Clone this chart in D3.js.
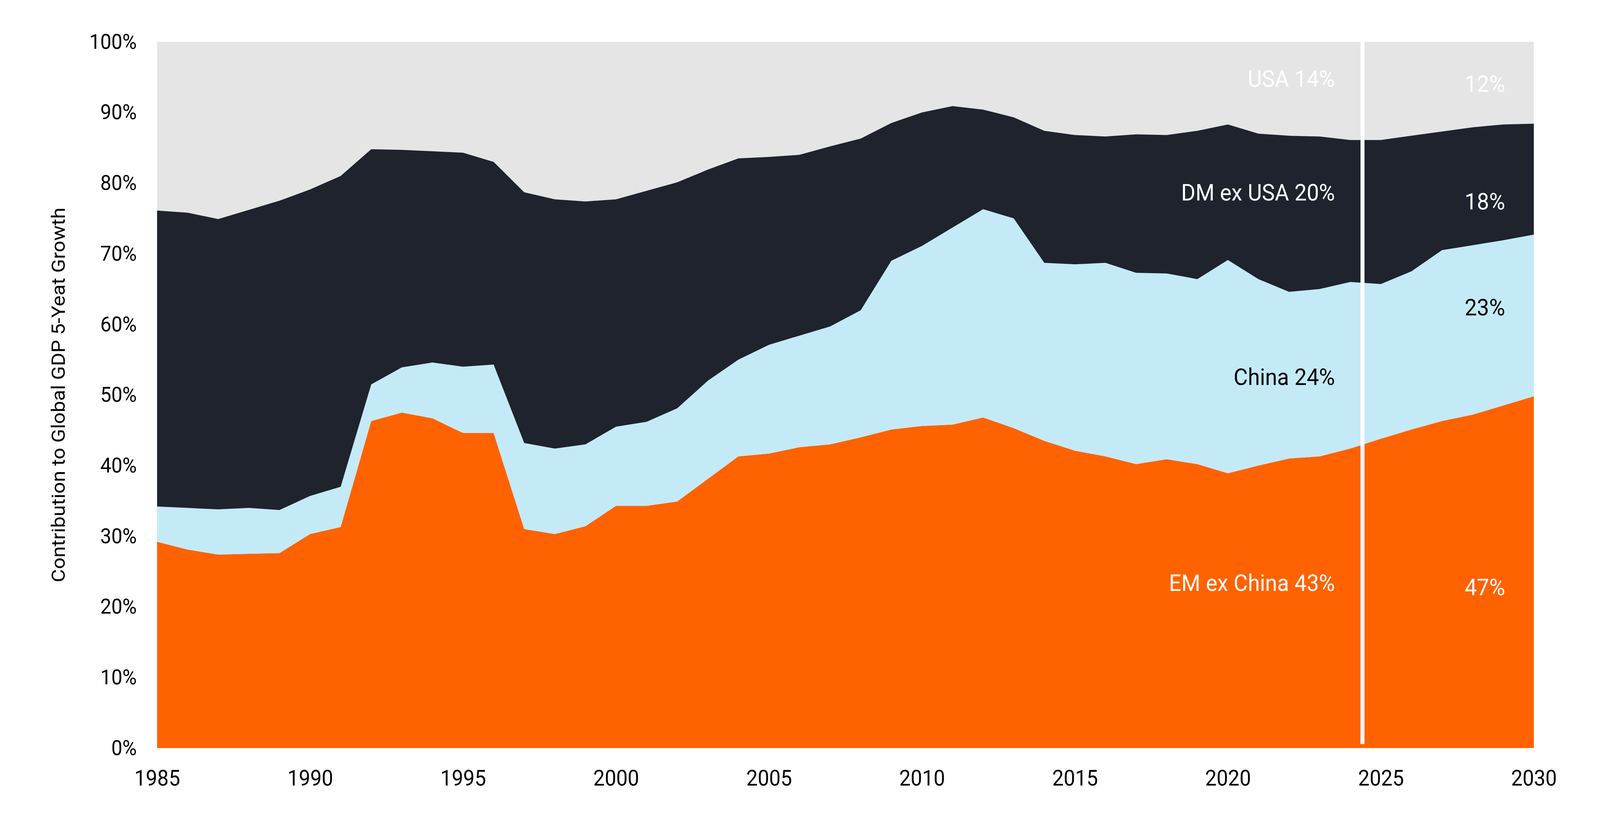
<!DOCTYPE html>
<html>
<head>
<meta charset="utf-8">
<script src="https://cdn.jsdelivr.net/npm/d3@7"></script>
<style>
  html, body { margin: 0; padding: 0; background: #fff; width: 100%; height: 100%; overflow: hidden; }
  #chart { display: block; width: 100vw; height: 100vh; }
  text { font-family: Roboto, "Noto Sans", sans-serif; }
</style>
</head>
<body>
<svg id="chart"></svg>
<script>
// contribution shares (%) per year
const years = d3.range(1985, 2031);
const emExChina = [29.2,28.1,27.4,27.5,27.6,30.3,31.3,46.3,47.5,46.7,
  44.6,44.6,31.0,30.3,31.4,34.3,34.3,34.9,38.1,41.3,
  41.7,42.6,43.0,44.0,45.1,45.6,45.8,46.8,45.3,43.5,
  42.1,41.3,40.2,40.9,40.2,38.9,40.0,41.0,41.3,42.4,
  43.8,45.1,46.3,47.2,48.5,49.8];
const china = [5.0,5.9,6.4,6.5,6.1,5.4,5.7,5.2,6.4,7.9,
  9.4,9.7,12.2,12.1,11.6,11.2,11.9,13.2,13.9,13.7,
  15.4,15.8,16.7,18.0,23.9,25.5,27.9,29.5,29.7,25.2,
  26.4,27.4,27.1,26.3,26.2,30.2,26.4,23.6,23.7,23.6,
  21.9,22.4,24.2,24.0,23.4,22.9];
const dmExUsa = [41.9,41.8,41.1,42.2,43.8,43.4,44.0,33.3,30.8,29.9,
  30.3,28.7,35.5,35.3,34.4,32.2,32.7,32.0,29.9,28.5,
  26.6,25.6,25.5,24.3,19.5,18.9,17.2,14.1,14.3,18.7,
  18.3,17.9,19.6,19.6,21.0,19.2,20.6,22.1,21.6,20.1,
  20.4,19.2,16.8,16.7,16.4,15.7];
const usa = [23.9,24.2,25.1,23.8,22.5,20.9,19.0,15.2,15.3,15.5,
  15.7,17.0,21.3,22.3,22.6,22.3,21.1,19.9,18.1,16.5,
  16.3,16.0,14.8,13.7,11.5,10.0,9.1,9.6,10.7,12.6,
  13.2,13.4,13.1,13.2,12.6,11.7,13.0,13.3,13.4,13.9,
  13.9,13.3,12.7,12.1,11.7,11.6];

const keys = ["emExChina", "china", "dmExUsa", "usa"];
const colors = ["#ff6200", "#c4eaf7", "#1e232d", "#e5e5e5"];

const xTicks = [1985, 1990, 1995, 2000, 2005, 2010, 2015, 2020, 2025, 2030];
const yTicks = [0, 10, 20, 30, 40, 50, 60, 70, 80, 90, 100];
const forecastYear = 2024.4;

// annotations: current (left) and projected (right) shares
const leftLabels = ["EM ex China 43%", "China 24%", "DM ex USA 20%", "USA 14%"];
const leftLabelY = [23.4, 52.6, 78.7, 94.8];
const rightLabels = ["47%", "23%", "18%", "12%"];
const rightLabelY = [22.8, 62.4, 77.4, 94.1];
const labelColors = ["#fff", "#000", "#fff", "#fff"];

const width = 4400, height = 2093;
const margin = { top: 107, right: 182, bottom: 179, left: 432 };

const table = years.map((yr, i) => ({
  year: yr, emExChina: emExChina[i], china: china[i], dmExUsa: dmExUsa[i], usa: usa[i]
}));
const series = d3.stack().keys(keys)(table);

const x = d3.scaleLinear().domain([1985, 2030]).range([margin.left, width - margin.right]);
const y = d3.scaleLinear().domain([0, 100]).range([height - margin.bottom, margin.top]);

// stretch to fill the viewport so the layout lines up with the 4400x2093 frame
const svg = d3.select("#chart")
  .attr("viewBox", [0, 0, width, height])
  .attr("preserveAspectRatio", "none");

const area = d3.area()
  .x((d) => x(d.data.year))
  .y0((d) => y(d[0]))
  .y1((d) => y(Math.min(d[1], 100)));

// usa layer fills to the top
svg.append("rect")
  .attr("x", x(1985)).attr("y", y(100))
  .attr("width", x(2030) - x(1985)).attr("height", y(0) - y(100))
  .attr("fill", colors[3]);

svg.append("g")
  .selectAll("path")
  .data(series.slice(0, 3))
  .join("path")
  .attr("fill", (d, i) => colors[i])
  .attr("d", area);

// forecast divider
svg.append("line")
  .attr("x1", x(forecastYear)).attr("x2", x(forecastYear))
  .attr("y1", y(100)).attr("y2", y(0) - 10)
  .attr("stroke", "#fff").attr("stroke-width", 11);

// axes
const yAxis = svg.append("g")
  .attr("transform", `translate(${margin.left - 16},0)`)
  .call(d3.axisLeft(y).tickValues(yTicks).tickFormat((d) => d + "%").tickSize(0).tickPadding(40));
yAxis.select(".domain").remove();
yAxis.selectAll("text").attr("font-size", 54).attr("fill", "#000").attr("font-family", "Roboto");

const xAxis = svg.append("g")
  .attr("transform", `translate(0,${y(0)})`)
  .call(d3.axisBottom(x).tickValues(xTicks).tickFormat(d3.format("d")).tickSize(0).tickPadding(56));
xAxis.select(".domain").remove();
xAxis.selectAll("text").attr("font-size", 56).attr("fill", "#000").attr("font-family", "Roboto");

svg.append("text")
  .attr("transform", `translate(178,${(y(0) + y(100)) / 2}) rotate(-90)`)
  .attr("text-anchor", "middle")
  .attr("font-size", 52)
  .attr("fill", "#000")
  .text("Contribution to Global GDP 5-Yeat Growth");

// series labels
svg.append("g")
  .selectAll("text")
  .data(leftLabels)
  .join("text")
  .attr("x", x(2023.5))
  .attr("y", (d, i) => y(leftLabelY[i]))
  .attr("dy", "0.35em")
  .attr("text-anchor", "end")
  .attr("font-size", 60)
  .attr("fill", (d, i) => labelColors[i])
  .text((d) => d);

svg.append("g")
  .selectAll("text")
  .data(rightLabels)
  .join("text")
  .attr("x", x(2028.4))
  .attr("y", (d, i) => y(rightLabelY[i]))
  .attr("dy", "0.35em")
  .attr("text-anchor", "middle")
  .attr("font-size", 60)
  .attr("fill", (d, i) => labelColors[i])
  .text((d) => d);
</script>
</body>
</html>
